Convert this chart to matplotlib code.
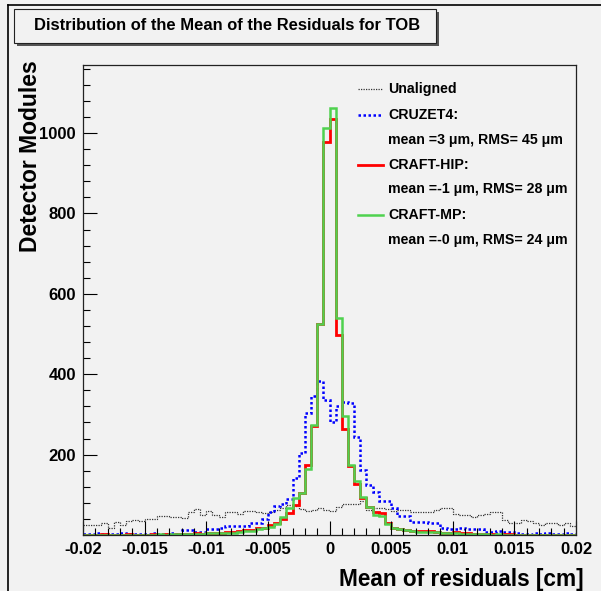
import numpy as np
import matplotlib
matplotlib.use('Agg')
import matplotlib.pyplot as plt
from matplotlib.patches import Rectangle
from matplotlib.ticker import MultipleLocator, FormatStrFormatter

plt.rcParams['font.family'] = ['Liberation Sans', 'DejaVu Sans']

# 80 bins from -0.02 to 0.02 cm
bin_edges = np.linspace(-0.02, 0.02, 81)

unaligned = [24, 26, 26, 31, 17, 33, 26, 34, 37, 34, 41, 41, 48, 48, 45, 45,
             42, 56, 64, 49, 59, 49, 45, 57, 57, 52, 59, 59, 57, 55, 57, 62,
             66, 75, 72, 64, 59, 62, 66, 62,
             59, 70, 76, 78, 78, 85, 62, 66, 66, 64, 60, 62, 62, 57, 57, 57,
             57, 62, 67, 67, 53, 49, 49, 45, 49, 53, 56, 56, 37, 31, 30, 37,
             34, 29, 26, 29, 29, 24, 31, 22]

cruzet4 = [3, 2, 4, 3, 2, 3, 4, 3, 2, 3, 3, 4, 3, 2, 4, 3,
           12, 13, 8, 8, 16, 16, 17, 22, 22, 23, 22, 30, 31, 40, 57, 72,
           78, 90, 141, 203, 304, 345, 382, 337,
           282, 320, 330, 328, 245, 162, 124, 107, 84, 84, 66, 48, 47, 33, 32, 33,
           31, 30, 17, 16, 16, 17, 16, 15, 16, 8, 8, 9, 8, 8, 4, 3,
           3, 4, 3, 4, 3, 2, 4, 3]

craft_hip = [1, 0, 1, 2, 1, 0, 1, 2, 1, 1, 0, 2, 1, 2, 1, 2,
             3, 2, 4, 3, 5, 5, 6, 8, 8, 9, 12, 13, 18, 18, 24, 31,
             39, 55, 75, 105, 174, 270, 524, 977,
             1035, 497, 263, 172, 126, 91, 70, 57, 55, 31, 17, 15, 13, 10, 10, 9,
             10, 8, 6, 5, 7, 4, 5, 3, 2, 2, 2, 1, 3, 2, 1, 1,
             0, 1, 1, 0, 1, 0, 1, 0]

craft_mp = [0, 0, 1, 0, 0, 1, 0, 0, 1, 1, 0, 1, 2, 1, 2, 2,
            3, 3, 3, 3, 4, 4, 5, 6, 6, 7, 10, 11, 15, 17, 20, 28,
            45, 66, 91, 105, 163, 273, 524, 1013,
            1063, 539, 297, 173, 134, 95, 70, 50, 47, 28, 18, 16, 12, 11, 8, 8,
            7, 7, 4, 4, 4, 3, 2, 2, 2, 2, 1, 2, 1, 1, 1, 0,
            1, 0, 1, 0, 0, 1, 0, 0]

labels = ['Unaligned',
          'CRUZET4:\nmean =3 \u03bcm, RMS= 45 \u03bcm',
          'CRAFT-HIP:\nmean =-1 \u03bcm, RMS= 28 \u03bcm',
          'CRAFT-MP:\nmean =-0 \u03bcm, RMS= 24 \u03bcm']

bg = '#f2f2f2'
W, H = 601, 591

fig = plt.figure(figsize=(6.01, 5.91), dpi=100, facecolor=bg)
ax = fig.add_axes([83 / W, 1 - 535 / H, (576 - 83) / W, (535 - 65) / H])
ax.set_facecolor(bg)

ax.stairs(unaligned, bin_edges, baseline=None, color='#333333', lw=0.9,
          linestyle=(0, (1, 1)))
ax.stairs(cruzet4, bin_edges, baseline=None, color='#0000ff', lw=1.8,
          linestyle=(0, (1, 1)))
ax.stairs(craft_hip, bin_edges, baseline=None, color='#ff0000', lw=2.0)
ax.stairs(craft_mp, bin_edges, baseline=None, color='#4fd24f', lw=1.8)

ax.set_xlim(-0.02, 0.02)
ymax = 1.1 * max(craft_mp)

ax.xaxis.set_major_locator(MultipleLocator(0.005))
ax.xaxis.set_minor_locator(MultipleLocator(0.001))
ax.yaxis.set_minor_locator(MultipleLocator(40))
ax.xaxis.set_major_formatter(FormatStrFormatter('%g'))
yticks = [200, 400, 600, 800, 1000]
ax.set_yticks(yticks)
ax.set_yticklabels([str(v) for v in yticks])
ax.set_ylim(0, ymax)
ax.tick_params(which='major', direction='in', length=10, width=0.8,
               labelsize=12, pad=5)
ax.tick_params(which='minor', direction='in', length=5, width=0.8)
for lab in ax.get_xticklabels() + ax.get_yticklabels():
    lab.set_fontweight('bold')

for s in ax.spines.values():
    s.set_linewidth(0.9)
    s.set_color('#222222')

ax.set_xlabel('Mean of residuals [cm]', fontsize=16.3, fontweight='bold',
              loc='right')
ax.set_ylabel('Detector Modules', fontsize=16.5, fontweight='bold', loc='top')
ax.xaxis.set_label_coords(1.016, -0.07)
ax.yaxis.set_label_coords(-0.084, 1.01)

# legend drawn as text + line samples
rows_y = [89, 115, 165, 215]
sub_y = [None, 140, 189, 240]
styles = [dict(color='#333333', lw=0.9, linestyle=(0, (1, 1))),
          dict(color='#0000ff', lw=1.8, linestyle=(0, (1, 1))),
          dict(color='#ff0000', lw=2.0),
          dict(color='#4fd24f', lw=1.8)]
for lab, ry, sy, st in zip(labels, rows_y, sub_y, styles):
    parts = lab.split('\n')
    fig.add_artist(plt.Line2D([358 / W, 383 / W], [1 - ry / H, 1 - ry / H],
                              transform=fig.transFigure, **st))
    fig.text(388 / W, 1 - ry / H, parts[0], fontsize=10.2, fontweight='bold',
             va='center', ha='left')
    if sy is not None:
        fig.text(388 / W, 1 - sy / H, parts[1], fontsize=10.2,
                 fontweight='bold', va='center', ha='left')

# title box with shadow
fig.add_artist(Rectangle((17 / W, 1 - 46 / H), 422 / W, 34 / H,
                         transform=fig.transFigure, facecolor='#555555',
                         edgecolor='none'))
fig.add_artist(Rectangle((14 / W, 1 - 43 / H), 422 / W, 34 / H,
                         transform=fig.transFigure, facecolor=bg,
                         edgecolor='#222222', lw=0.8))
fig.text(227 / W, 1 - 26 / H,
         'Distribution of the Mean of the Residuals for TOB',
         fontsize=11.9, fontweight='bold', ha='center', va='center')

# canvas border (left and top)
fig.add_artist(plt.Line2D([8 / W, 8 / W], [0, 1 - 5 / H],
                          transform=fig.transFigure, color='black', lw=1.2))
fig.add_artist(plt.Line2D([8 / W, 1], [1 - 5 / H, 1 - 5 / H],
                          transform=fig.transFigure, color='black', lw=1.2))

fig.savefig('out.png', dpi=100, facecolor=bg)
